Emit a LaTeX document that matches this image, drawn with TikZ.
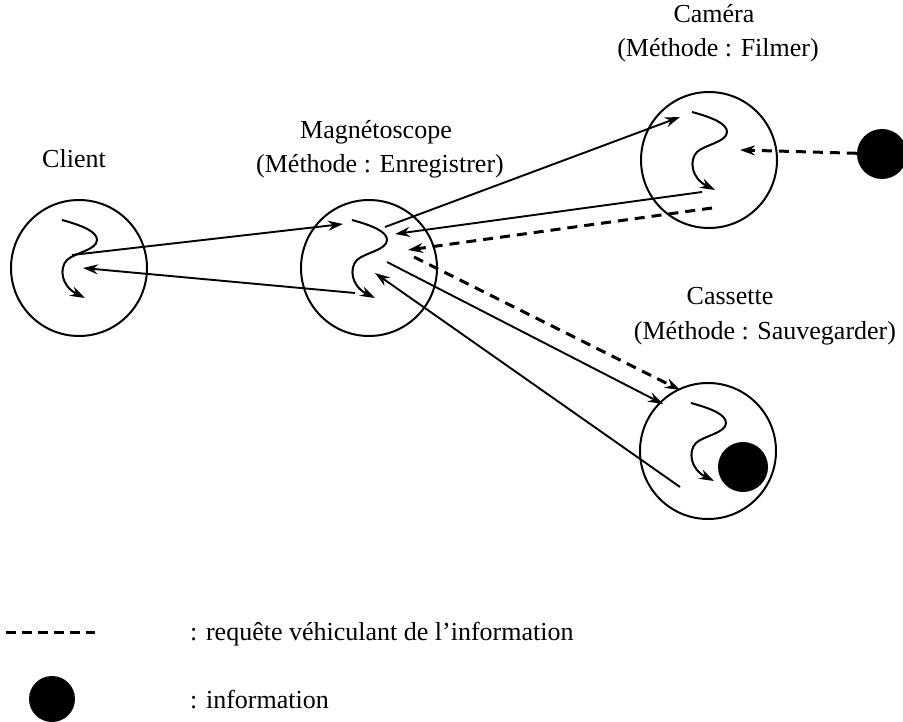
\documentclass[tikz,border=0pt]{standalone}
\usepackage{fontspec}
\setmainfont{Liberation Serif}
\usetikzlibrary{arrows.meta}
\begin{document}
\begin{tikzpicture}[x=1pt,y=-1pt,
  obj/.style={circle,draw,line width=2pt,minimum size=136pt,inner sep=0pt},
  tip/.style={-{Stealth[length=15pt,width=10pt,inset=5pt]}},
  msg/.style={tip,line width=1.9pt},
  req/.style={tip,line width=3pt,dash pattern=on 10pt off 7pt},
  info/.style={circle,fill=black,inner sep=0pt,minimum size=50pt},
  lbl/.style={anchor=base,font=\fontsize{26}{31}\selectfont,inner sep=0pt},
  meth/.pic={\draw[tip,line width=2pt] (-17,-48) .. controls (5,-42) and (18,-36) .. (18,-28)
      .. controls (18,-18) and (-5,-15) .. (-12,-8)
      .. controls (-20,0) and (-18,18) .. (6,30);}
]
\useasboundingbox (0,0) rectangle (903,722);

% objects
\node[obj] (cli) at (79,268) {};
\node[obj] (mag) at (369,268) {};
\node[obj] (cam) at (709,160) {};
\node[obj] (cas) at (708,451) {};
\pic at (cli) {meth};
\pic at (mag) {meth};
\pic at (cam) {meth};
\pic at (cas) {meth};

% information tokens
\node[info] (dot) at (882,154) {};
\node[info] (stored) at (743,467) {};

% labels
\node[lbl] (lcli) at (74,168) {Client};
\node[lbl] (lmag1) at (376,139) {Magnétoscope};
\node[lbl] (lmag2) at (380,173) {(Méthode : Enregistrer)};
\node[lbl] (lcam1) at (714,23) {Caméra};
\node[lbl] (lcam2) at (718,57) {(Méthode : Filmer)};
\node[lbl] (lcas1) at (730,305) {Cassette};
\node[lbl] (lcas2) at (765,340) {(Méthode : Sauvegarder)};

% connector end points
\coordinate (cl-out) at (72,255);
\coordinate (cl-in) at (83,268);
\coordinate (ma-in1) at (343,224);
\coordinate (ma-out1) at (355,293);
\coordinate (ma-out2) at (385,227);
\coordinate (ma-in2) at (395,234);
\coordinate (ma-in3) at (408,250);
\coordinate (ma-out3) at (414,257);
\coordinate (ma-out4) at (387,262);
\coordinate (ma-in4) at (375,273);
\coordinate (ca-in1) at (680,117);
\coordinate (ca-out1) at (702,192);
\coordinate (ca-out2) at (712,208);
\coordinate (ca-in2) at (740,150);
\coordinate (cs-in1) at (680,390);
\coordinate (cs-in2) at (663,404);
\coordinate (cs-out) at (680,487);

% messages
\draw[msg] (cl-out) -- (ma-in1);
\draw[msg] (ma-out1) -- (cl-in);
\draw[msg] (ma-out2) -- (ca-in1);
\draw[msg] (ca-out1) -- (ma-in2);
\draw[req] (ca-out2) -- (ma-in3);
\draw[req] (dot) -- (ca-in2);
\draw[req] (ma-out3) -- (cs-in1);
\draw[msg] (ma-out4) -- (cs-in2);
\draw[msg] (cs-out) -- (ma-in4);

% legend
\coordinate (leg-a) at (6,632);
\coordinate (leg-b) at (95,632);
\draw[line width=3pt,dash pattern=on 10pt off 6pt] (leg-a) -- (leg-b);
\node[lbl,anchor=base west] (leg1) at (190,640) {: requête véhiculant de l’information};
\node[info,minimum size=46pt] (legdot) at (52,699) {};
\node[lbl,anchor=base west] (leg2) at (190,708) {: information};
\end{tikzpicture}
\end{document}
